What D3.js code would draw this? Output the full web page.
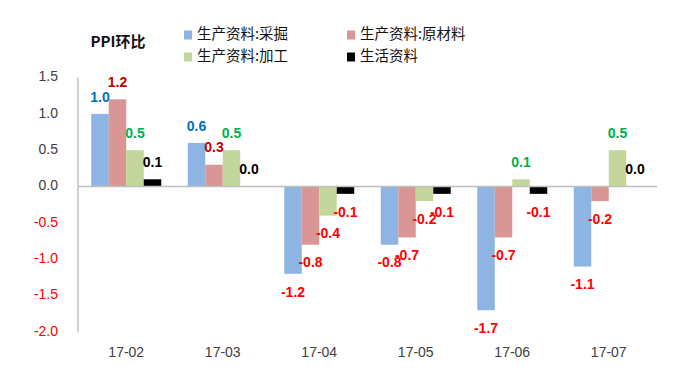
<!DOCTYPE html>
<html lang="zh">
<head>
<meta charset="UTF-8">
<title>PPI环比</title>
<script src="https://d3js.org/d3.v7.min.js"></script>
<style>
    body { margin: 0; background: #fff; }
    svg { display: block; }
    .tick-label { font-family: "Liberation Sans", Arial, sans-serif; font-size: 14px; }
    .data-label { font-family: "Liberation Sans", Arial, sans-serif; font-size: 14px; font-weight: bold; }
    .legend-text { font-family: "Noto Sans CJK SC", sans-serif; font-size: 14.5px; fill: #111; }
</style>
</head>
<body>
<div id="chart"></div>
<script>
// data
const months = ["17-02", "17-03", "17-04", "17-05", "17-06", "17-07"];
const seriesNames = ["生产资料:采掘", "生产资料:原材料", "生产资料:加工", "生活资料"];
const mining = [1.0, 0.6, -1.2, -0.8, -1.7, -1.1];
const rawMaterial = [1.2, 0.3, -0.8, -0.7, -0.7, -0.2];
const processing = [0.5, 0.5, -0.4, -0.2, 0.1, 0.5];
const living = [0.1, 0.0, -0.1, -0.1, -0.1, 0.0];
const yTicks = [1.5, 1.0, 0.5, 0.0, -0.5, -1.0, -1.5, -2.0];

const barColors = ["#8EB4E3", "#D99694", "#C3D69B", "#000000"];
const posLabelColors = ["#0070C0", "#C00000", "#00B050", "#000000"];
const negColor = "#FF0000";

const width = 696, height = 389;
const plotLeft = 78, plotRight = 657, plotTop = 77.5, plotBottom = 332;

const values = [mining, rawMaterial, processing, living];
const rows = [];
months.forEach((m, i) => {
    values.forEach((arr, s) => rows.push({ month: m, s: s, v: arr[i] }));
});

const svg = d3.select("#chart").append("svg")
    .attr("width", width).attr("height", height);

const y = d3.scaleLinear().domain([-2, 1.5]).range([plotBottom, plotTop]);
const x0 = d3.scaleBand().domain(months).range([plotLeft, plotRight])
    .paddingInner(0.275).paddingOuter(0.1375);
const x1 = d3.scaleBand().domain(d3.range(4)).range([0, x0.bandwidth()]);

// y axis labels
svg.selectAll(".tick-label.y").data(yTicks).join("text")
    .attr("class", "tick-label y")
    .attr("x", 58).attr("y", d => y(d))
    .attr("text-anchor", "end").attr("dominant-baseline", "middle")
    .attr("fill", d => d < 0 ? negColor : "#404040")
    .text(d => d.toFixed(1));

// bars
svg.selectAll("rect.bar").data(rows).join("rect")
    .attr("class", "bar")
    .attr("x", d => x0(d.month) + x1(d.s))
    .attr("width", x1.bandwidth())
    .attr("y", d => y(Math.max(0, d.v)))
    .attr("height", d => Math.abs(y(d.v) - y(0)))
    .attr("fill", d => barColors[d.s]);

// axis lines
svg.append("line")
    .attr("x1", plotLeft).attr("x2", plotLeft).attr("y1", plotTop).attr("y2", plotBottom)
    .attr("stroke", "#BFBFBF").attr("stroke-width", 1.5);
svg.append("line")
    .attr("x1", plotLeft).attr("x2", plotRight).attr("y1", y(0)).attr("y2", y(0))
    .attr("stroke", "#BFBFBF").attr("stroke-width", 1.5);

// data labels
svg.selectAll("text.data-label").data(rows).join("text")
    .attr("class", "data-label")
    .attr("x", d => x0(d.month) + x1(d.s) + x1.bandwidth() / 2)
    .attr("y", d => d.v >= 0 ? y(d.v) - 16 : y(d.v) + 19)
    .attr("text-anchor", "middle").attr("dominant-baseline", "middle")
    .attr("fill", d => d.v >= 0 ? posLabelColors[d.s] : negColor)
    .text(d => d.v.toFixed(1));

// category labels
svg.selectAll(".tick-label.x").data(months).join("text")
    .attr("class", "tick-label x")
    .attr("x", d => x0(d) + x0.bandwidth() / 2).attr("y", 353)
    .attr("text-anchor", "middle").attr("dominant-baseline", "middle")
    .attr("fill", "#404040")
    .text(d => d);

// title
svg.append("text")
    .attr("x", 118).attr("y", 43)
    .attr("text-anchor", "middle").attr("dominant-baseline", "middle")
    .attr("font-family", "'Noto Sans CJK SC', sans-serif")
    .attr("font-size", 15).attr("font-weight", "bold").attr("fill", "#111")
    .text("PPI环比");

// legend
const legendPos = [[184, 35], [347, 35], [184, 57], [347, 57]];
const legend = svg.selectAll("g.legend").data(seriesNames).join("g")
    .attr("class", "legend")
    .attr("transform", (d, i) => `translate(${legendPos[i][0]},${legendPos[i][1]})`);
legend.append("rect")
    .attr("x", 0).attr("y", -4.5).attr("width", 8).attr("height", 9)
    .attr("fill", (d, i) => barColors[i]);
legend.append("text")
    .attr("class", "legend-text")
    .attr("x", 13).attr("y", 0)
    .attr("dominant-baseline", "middle")
    .text(d => d);
</script>
</body>
</html>
